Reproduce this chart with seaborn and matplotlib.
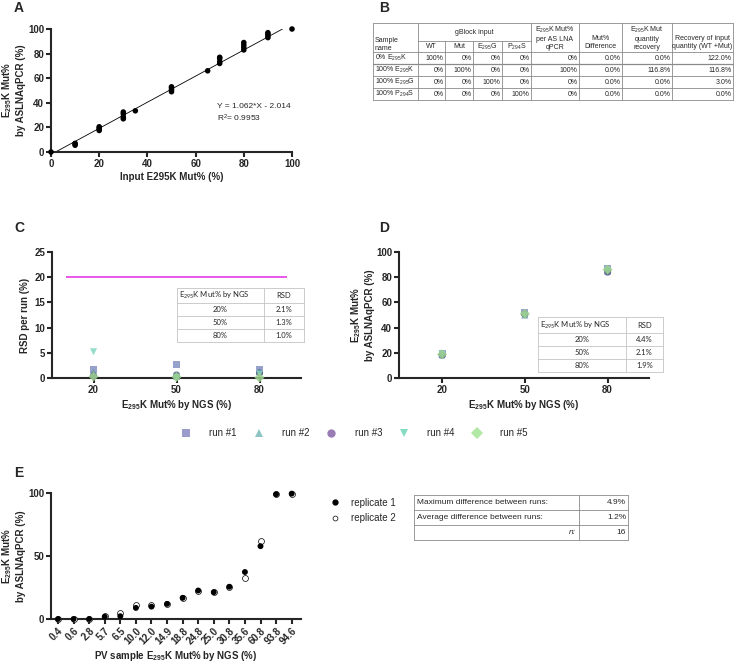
import numpy as np
import pandas as pd
import matplotlib
matplotlib.use("Agg")
import matplotlib.pyplot as plt
from matplotlib.lines import Line2D
import seaborn as sns

# ---------------- datos ----------------
# Panel A
a_input = [0, 10, 10, 10, 20, 20, 20, 20, 30, 30, 30, 30, 35, 50, 50, 50, 50, 65,
           70, 70, 70, 70, 80, 80, 80, 80, 90, 90, 90, 90, 100]
a_measured = [0, 5.5, 6.5, 7, 17.5, 18.5, 19.5, 20.5, 27, 28.5, 31, 32.5, 33.5,
              49, 50.5, 52, 53, 66, 72, 73.5, 76, 77, 83, 85, 87, 89,
              93, 94.5, 96, 97, 100]
fit_slope = 1.062
fit_intercept = -2.014
fit_r2 = 0.9953

# Panel B
b_samples = ["0% E$_{295}$K", "100% E$_{295}$K", "100% E$_{295}$G", "100% P$_{294}$S"]
b_wt = ["100%", "0%", "0%", "0%"]
b_mut = ["0%", "100%", "0%", "0%"]
b_e295g = ["0%", "0%", "100%", "0%"]
b_p294s = ["0%", "0%", "0%", "100%"]
b_lna = ["0%", "100%", "0%", "0%"]
b_diff = ["0.0%", "0.0%", "0.0%", "0.0%"]
b_recovery = ["0.0%", "116.8%", "0.0%", "0.0%"]
b_input_recovery = ["122.0%", "116.8%", "3.0%", "0.0%"]

# Panels C y D
ngs_levels = ["20", "50", "80"]
runs = ["run #1", "run #2", "run #3", "run #4", "run #5"]
c_rsd = {
    "run #1": [1.6, 2.6, 1.6],
    "run #2": [1.2, 0.3, 1.3],
    "run #3": [0.5, 0.6, 1.0],
    "run #4": [5.2, 0.1, 0.8],
    "run #5": [0.3, 0.2, 0.1],
}
d_mut = {
    "run #1": [19.5, 52.0, 87.0],
    "run #2": [18.5, 50.0, 85.0],
    "run #3": [18.0, 50.5, 84.0],
    "run #4": [19.0, 49.5, 85.5],
    "run #5": [18.8, 51.0, 86.0],
}
c_table_rsd = ["2.1%", "1.3%", "1.0%"]
d_table_rsd = ["4.4%", "2.1%", "1.9%"]
table_levels = ["20%", "50%", "80%"]

# Panel E
e_samples = ["0.4", "0.6", "2.8", "5.7", "6.5", "10.0", "12.0", "14.9", "18.8",
             "24.8", "25.0", "30.8", "35.6", "60.8", "93.8", "94.6"]
e_rep1 = [0, 0, 0, 1.8, 2.2, 8.8, 9.8, 12, 16.8, 22.6, 21.3, 25.6, 37.3, 57.8, 99, 99.5]
e_rep2 = [0, 0, 0, 2.5, 4.8, 11.4, 11.4, 12, 16.8, 22.0, 21.3, 25.6, 32.2, 62.0, 99, 99.5]
e_stats = ["Maximum difference between runs:", "Average difference between runs:", "n:"]
e_values = ["4.9%", "1.2%", "16"]

# ---------------- estilo ----------------
sns.set_style("ticks")
plt.rcParams["font.family"] = ["Liberation Sans", "DejaVu Sans"]
plt.rcParams["mathtext.default"] = "regular"
plt.rcParams["axes.linewidth"] = 1.5
plt.rcParams["xtick.major.width"] = 1.5
plt.rcParams["ytick.major.width"] = 1.5
plt.rcParams["xtick.major.size"] = 3.5
plt.rcParams["ytick.major.size"] = 3.5

# colores de la leyenda y (algo más oscuros) de los puntos
run_colors = {"run #1": "#9c9ccc", "run #2": "#8fc4c4", "run #3": "#9a7cb4",
              "run #4": "#84dcc2", "run #5": "#b2e8a6"}
point_colors = {"run #1": "#8492c2", "run #2": "#6f9fb5", "run #3": "#535c88",
                "run #4": "#84d6c2", "run #5": "#9ccf8e"}
run_markers = {"run #1": "s", "run #2": "^", "run #3": "o", "run #4": "v", "run #5": "D"}

W, H = 734, 664
fig = plt.figure(figsize=(W / 100, H / 100), dpi=100)


def px_axes(left, top, right, bottom):
    return fig.add_axes([left / W, 1 - bottom / H, (right - left) / W, (bottom - top) / H])


def style_axis(ax, ylab_right):
    sns.despine(ax=ax)
    ax.tick_params(labelsize=7, pad=1.5)
    for lab in ax.get_xticklabels() + ax.get_yticklabels():
        lab.set_fontweight("bold")
    # posición del título del eje y (borde derecho en pixeles)
    left = ax.get_position().x0 * W
    ax.yaxis.set_label_coords((ylab_right - left) / (ax.get_position().width * W), 0.5)


ylab_mut = "E$_{295}$K Mut%\nby ASLNAqPCR (%)"
xlab_ngs = "E$_{295}$K Mut% by NGS (%)"

# ---------------- Panel A ----------------
ax_a = px_axes(51, 29, 292, 152)
sns.scatterplot(x=a_input, y=a_measured, color="black", s=16, edgecolor="none",
                ax=ax_a, clip_on=False, zorder=3)
x_fit = np.array([-fit_intercept / fit_slope, (100 - fit_intercept) / fit_slope])
sns.lineplot(x=x_fit, y=fit_slope * x_fit + fit_intercept, color="black", lw=0.6, ax=ax_a)
ax_a.set_xlim(0, 100)
ax_a.set_ylim(0, 100)
ax_a.set_xticks([0, 20, 40, 60, 80, 100])
ax_a.set_yticks([0, 20, 40, 60, 80, 100])
ax_a.set_xlabel("Input E295K Mut% (%)", fontsize=7, fontweight="bold", labelpad=2)
ax_a.set_ylabel(ylab_mut, fontsize=7, fontweight="bold")
ax_a.text(69, 31.5, f"Y = {fit_slope}*X - {abs(fit_intercept)}\nR$^2$= {fit_r2}",
          fontsize=6, linespacing=1.3, va="center", ha="left")
style_axis(ax_a, 26)

# ---------------- Panel C ----------------
df_c = pd.DataFrame([(lvl, r, c_rsd[r][i]) for r in runs for i, lvl in enumerate(ngs_levels)],
                    columns=["ngs", "run", "valor"])
df_d = pd.DataFrame([(lvl, r, d_mut[r][i]) for r in runs for i, lvl in enumerate(ngs_levels)],
                    columns=["ngs", "run", "valor"])

ax_c = px_axes(52, 252, 301, 378)
sns.scatterplot(data=df_c, x="ngs", y="valor", hue="run", style="run", palette=point_colors,
                markers=run_markers, s=26, alpha=0.85, edgecolor="none", legend=False,
                ax=ax_c, clip_on=False, zorder=3)
ax_c.hlines(20, -0.33, 2.33, color="#e83ae6", lw=1.2)
ax_c.set_xlim(-0.5, 2.5)
ax_c.set_ylim(0, 25)
ax_c.set_yticks([0, 5, 10, 15, 20, 25])
ax_c.set_xlabel(xlab_ngs, fontsize=7, fontweight="bold", labelpad=2)
ax_c.set_ylabel("RSD per run (%)", fontsize=7, fontweight="bold")
style_axis(ax_c, 30)

# ---------------- Panel D ----------------
ax_d = px_axes(399, 252, 649, 378)
sns.scatterplot(data=df_d, x="ngs", y="valor", hue="run", style="run", palette=point_colors,
                markers=run_markers, s=26, alpha=0.85, edgecolor="none", legend=False,
                ax=ax_d, clip_on=False, zorder=3)
ax_d.set_xlim(-0.52, 2.5)
ax_d.set_ylim(0, 100)
ax_d.set_yticks([0, 20, 40, 60, 80, 100])
ax_d.set_xlabel(xlab_ngs, fontsize=7, fontweight="bold", labelpad=2)
ax_d.set_ylabel(ylab_mut, fontsize=7, fontweight="bold")
style_axis(ax_d, 375)

# Leyenda de corridas
handles = [Line2D([], [], ls="", marker=run_markers[r], color=run_colors[r], markersize=6,
                  markeredgewidth=0) for r in runs]
fig.legend(handles, runs, loc="center", bbox_to_anchor=(352 / W, 1 - 433 / H), ncol=5,
           frameon=False, fontsize=7, handletextpad=1.4, columnspacing=1.25)

# ---------------- Panel E ----------------
ax_e = px_axes(51, 493, 301, 619)
sns.scatterplot(x=e_samples, y=e_rep2, marker="o", facecolor="white", edgecolor="black",
                linewidth=0.5, s=18, ax=ax_e, clip_on=False, zorder=3)
sns.scatterplot(x=e_samples, y=e_rep1, marker="o", color="black", edgecolor="none",
                s=18, ax=ax_e, clip_on=False, zorder=4)
ax_e.set_xlim(-0.45, 15.6)
ax_e.set_ylim(0, 100)
ax_e.set_yticks([0, 50, 100])
ax_e.set_xlabel("PV sample E$_{295}$K Mut% by NGS (%)", fontsize=7, fontweight="bold", labelpad=2)
ax_e.set_ylabel(ylab_mut, fontsize=7, fontweight="bold")
style_axis(ax_e, 26)
plt.setp(ax_e.get_xticklabels(), rotation=45, ha="right", rotation_mode="anchor")

rep_handles = [Line2D([], [], ls="", marker="o", color="black", markersize=3.5),
               Line2D([], [], ls="", marker="o", markerfacecolor="white",
                      markeredgecolor="black", markeredgewidth=0.5, markersize=3.5)]
fig.legend(rep_handles, ["replicate 1", "replicate 2"], loc="upper left",
           bbox_to_anchor=(317 / W, 1 - 489 / H), frameon=False, fontsize=7,
           handletextpad=0.6, labelspacing=0.55)

# ---------------- tablas (capa en pixeles) ----------------
ov = fig.add_axes([0, 0, 1, 1], facecolor="none")
ov.set_xlim(0, W)
ov.set_ylim(H, 0)
ov.axis("off")

# etiquetas de panel
for lab, (x, y) in {"A": (19, 8), "B": (384, 8), "C": (19, 228), "D": (384, 228),
                    "E": (19, 473)}.items():
    ov.text(x, y, lab, fontsize=10, fontweight="bold", ha="center", va="center")

# Tabla B
grid = "#8a8a8a"
bx = [373, 418, 445, 473, 502, 531, 579, 622, 672, 733]
by = [23, 41, 52, 64, 76, 88, 100]
for x in bx:
    top = 41 if x in (445, 473, 502) else 23
    ov.plot([x, x], [top, 100], color=grid, lw=0.6)
for y in by:
    if y == 41:
        ov.plot([418, 531], [y, y], color=grid, lw=0.6)
    else:
        ov.plot([373, 733], [y, y], color=grid, lw=0.9 if y == 64 else 0.6)

tfs = 5
ov.text(375, 44, "Sample\nname", fontsize=tfs, ha="left", va="center", linespacing=1.2)
ov.text(474.5, 32, "gBlock input", fontsize=tfs, ha="center", va="center")
for x0, x1, t in zip(bx[1:5], bx[2:6], ["WT", "Mut", "E$_{295}$G", "P$_{294}$S"]):
    ov.text((x0 + x1) / 2, 47, t, fontsize=tfs, ha="center", va="center")
ov.text(555, 37.5, "E$_{295}$K Mut%\nper AS LNA\nqPCR", fontsize=tfs, ha="center",
        va="center", linespacing=1.2)
ov.text(600.5, 43, "Mut%\nDifference", fontsize=tfs, ha="center", va="center", linespacing=1.2)
ov.text(647, 37.5, "E$_{295}$K Mut\nquantity\nrecovery", fontsize=tfs, ha="center",
        va="center", linespacing=1.2)
ov.text(702.5, 43, "Recovery of input\nquantity (WT +Mut)", fontsize=tfs, ha="center",
        va="center", linespacing=1.2)
b_cols = [b_wt, b_mut, b_e295g, b_p294s, b_lna, b_diff, b_recovery, b_input_recovery]
for i, name in enumerate(b_samples):
    yc = (by[2 + i] + by[3 + i]) / 2
    ov.text(375, yc, name, fontsize=tfs, ha="left", va="center")
    for j, col in enumerate(b_cols):
        ov.text(bx[j + 2] - 1.5, yc, col[i], fontsize=tfs, ha="right", va="center")


# Tablas insertadas C y D
def inset_table(xs, ys, values):
    lc = "#c4c4c4"
    for x in xs:
        ov.plot([x, x], [ys[0], ys[-1]], color=lc, lw=0.6)
    for y in ys:
        ov.plot([xs[0], xs[-1]], [y, y], color=lc, lw=0.6)
    f = ["Lato", "DejaVu Sans"]
    ov.text(xs[0] + 2, (ys[0] + ys[1]) / 2, "E$_{295}$K Mut% by NGS", fontsize=5.5,
            ha="left", va="center", family=f)
    ov.text((xs[1] + xs[2]) / 2, (ys[0] + ys[1]) / 2, "RSD", fontsize=5.5,
            ha="center", va="center", family=f)
    for i, (lvl, v) in enumerate(zip(table_levels, values)):
        yc = (ys[i + 1] + ys[i + 2]) / 2
        ov.text((xs[0] + xs[1]) / 2, yc, lvl, fontsize=5.5, ha="center", va="center", family=f)
        ov.text((xs[1] + xs[2]) / 2, yc, v, fontsize=5.5, ha="center", va="center", family=f)


inset_table([177, 264, 304], [288, 303, 316, 329, 342], c_table_rsd)
inset_table([538, 626, 663], [317, 333, 346, 359, 372], d_table_rsd)

# Tabla E
ex = [414, 579, 628]
ey = [495, 510, 525, 540]
for x in ex:
    ov.plot([x, x], [ey[0], ey[-1]], color=grid, lw=0.6)
for y in ey:
    ov.plot([ex[0], ex[-1]], [y, y], color=grid, lw=0.6)
for i, (s, v) in enumerate(zip(e_stats, e_values)):
    yc = (ey[i] + ey[i + 1]) / 2
    if s == "n:":
        ov.text(ex[1] - 3, yc, s, fontsize=6, ha="right", va="center", style="italic")
    else:
        ov.text(ex[0] + 3, yc, s, fontsize=6, ha="left", va="center")
    ov.text(ex[2] - 2, yc, v, fontsize=6, ha="right", va="center")

fig.savefig("out.png", dpi=100)
